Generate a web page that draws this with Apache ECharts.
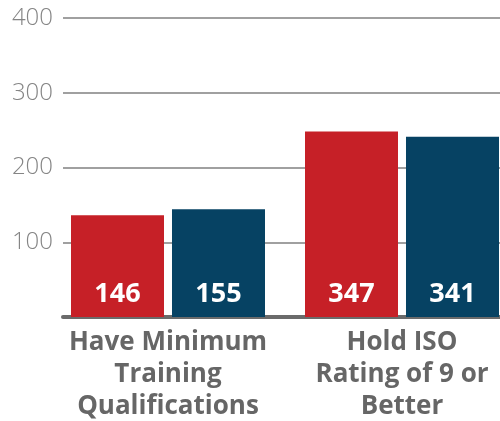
<!DOCTYPE html>
<html>
<head>
<meta charset="utf-8">
<script src="https://cdn.jsdelivr.net/npm/echarts@6/dist/echarts.min.js"></script>
<style>
  html, body { margin: 0; padding: 0; background: #fff; }
  #chart { width: 500px; height: 421px; }
</style>
</head>
<body>
<div id="chart"></div>
<script>
const categories = ['Have Minimum\nTraining\nQualifications', 'Hold ISO\nRating of 9 or\nBetter']
const redValues = [136, 248]
const blueValues = [144, 241]
const redLabels = ['146', '347']
const blueLabels = ['155', '341']
const yTicks = [0, 100, 200, 300, 400]

const chart = echarts.init(document.getElementById('chart'))

const barLabel = (labels) => ({
  show: true,
  position: 'insideBottom',
  distance: 9,
  color: '#fff',
  fontFamily: 'Open Sans',
  fontWeight: 'bold',
  fontSize: 27,
  formatter: (p) => labels[p.dataIndex],
})

const option = {
  animation: false,
  grid: [
    // axis frame: gridlines + y labels + bottom line
    { left: 63, right: 0, top: 18, bottom: 104 },
    // bars, wider than the canvas on the right
    { left: 51, width: 468, top: 18, bottom: 104, outerBoundsMode: 'none', containLabel: false },
  ],
  xAxis: [
    {
      gridIndex: 0,
      type: 'value',
      min: 0,
      max: 1,
      offset: 2,
      axisLine: { show: true, lineStyle: { color: '#6b6b6b', width: 4 } },
      axisTick: { show: false },
      axisLabel: { show: false },
      splitLine: { show: false },
    },
    {
      gridIndex: 1,
      type: 'category',
      data: categories,
      axisLine: { show: false },
      axisTick: { show: false },
      axisLabel: {
        interval: 0,
        margin: 10,
        color: '#666',
        fontFamily: 'Open Sans',
        fontWeight: 'bold',
        fontSize: 26,
        lineHeight: 32,
      },
    },
  ],
  yAxis: [
    {
      gridIndex: 0,
      type: 'value',
      min: yTicks[0],
      max: yTicks[yTicks.length - 1],
      interval: 100,
      axisLine: { show: false },
      axisTick: { show: false },
      axisLabel: {
        showMinLabel: false,
        margin: 10,
        color: '#858585',
        fontFamily: 'Open Sans',
        fontWeight: 300,
        fontSize: 24,
      },
      splitLine: { show: true, lineStyle: { color: '#808080', width: 1.5 } },
    },
    {
      gridIndex: 1,
      type: 'value',
      min: yTicks[0],
      max: yTicks[yTicks.length - 1],
      show: false,
    },
  ],
  series: [
    {
      type: 'bar',
      xAxisIndex: 1,
      yAxisIndex: 1,
      data: redValues,
      barWidth: 93,
      barGap: '8.6%',
      itemStyle: { color: '#c62027' },
      label: barLabel(redLabels),
      z: 3,
    },
    {
      type: 'bar',
      xAxisIndex: 1,
      yAxisIndex: 1,
      data: blueValues,
      barWidth: 93,
      barGap: '8.6%',
      itemStyle: { color: '#064263' },
      label: barLabel(blueLabels),
      z: 3,
    },
  ],
}

chart.setOption(option)
</script>
</body>
</html>
